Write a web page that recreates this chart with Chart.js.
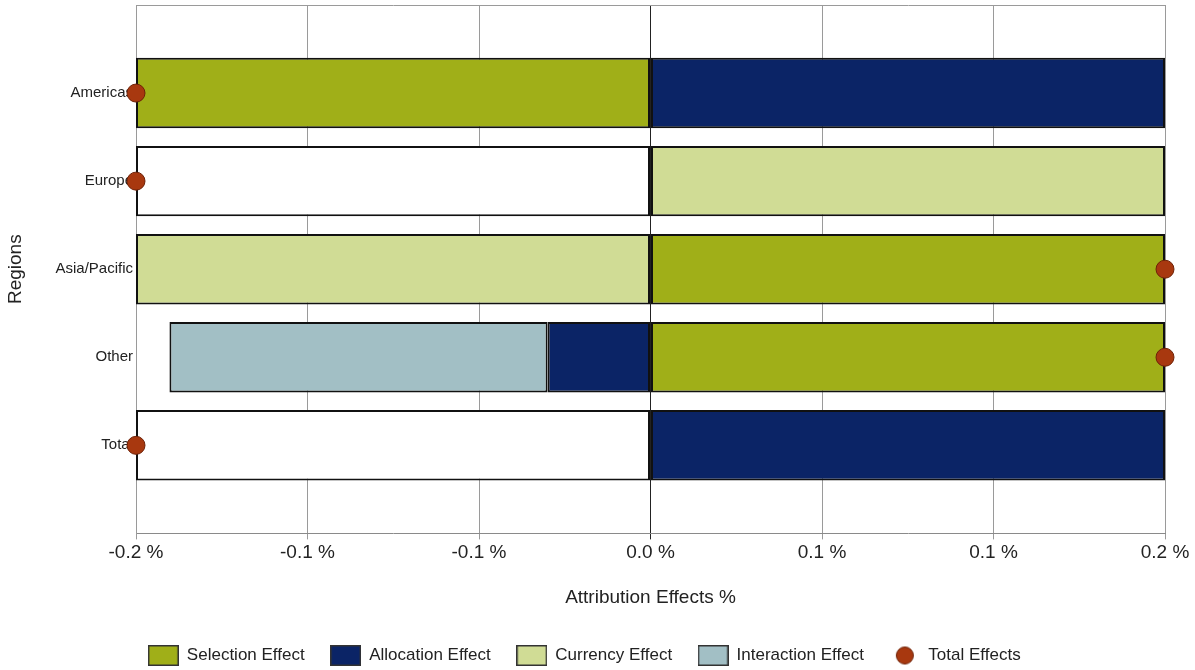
<!DOCTYPE html>
<html>
<head>
<meta charset="utf-8">
<script src="https://cdn.jsdelivr.net/npm/chart.js@4"></script>
<style>
  html, body { margin: 0; padding: 0; background: #fff; }
  #wrap { width: 1195px; height: 670px; }
</style>
</head>
<body>
<div id="wrap"><canvas id="myChart" width="1195" height="670"></canvas></div>
<script>
// regions on the category axis (blank slots at both ends keep the spacing of the original)
var regions = ['Americas', 'Europe', 'Asia/Pacific', 'Other', 'Total'];

// attribution effects in %, null where a region has no bar
var selectionEffect   = [-0.2, null, 0.2, 0.2, null];
var allocationEffect  = [0.2, null, null, -0.04, 0.2];
var currencyEffect    = [null, 0.2, -0.2, null, null];
var interactionEffect = [null, null, null, -0.147, null];
var blankEffect       = [null, -0.2, null, null, -0.2];
var totalEffects      = [-0.2, -0.2, 0.2, 0.2, -0.2];

var xMin = -0.2, xMax = 0.2;

var colors = {
    selection: '#a0af18',
    allocation: '#0b2466',
    currency: '#d0dc95',
    interaction: '#a2bfc5',
    total: '#a8380f'
};

var axisFont = '"Liberation Sans", Arial, sans-serif';

function pad(arr) {
    return [null].concat(arr, [null]);
}

function swatch(fill, round) {
    var c = document.createElement('canvas');
    var g = c.getContext('2d');
    if (round) {
        c.width = 20; c.height = 20;
        g.beginPath();
        g.arc(10, 10, 8.5, 0, Math.PI * 2);
        g.fillStyle = fill;
        g.fill();
        g.strokeStyle = '#6e2208';
        g.lineWidth = 1;
        g.stroke();
    } else {
        c.width = 31; c.height = 21;
        g.fillStyle = fill;
        g.fillRect(0, 0, 31, 21);
        g.strokeStyle = '#333';
        g.lineWidth = 1.5;
        g.strokeRect(0.75, 0.75, 29.5, 19.5);
    }
    return c;
}

function barSet(label, data, color) {
    return {
        label: label,
        data: pad(data),
        backgroundColor: color,
        borderColor: '#111',
        borderWidth: 2,
        borderSkipped: false,
        barPercentage: 1,
        categoryPercentage: 0.8,
        stack: 'effects',
        xAxisID: 'x'
    };
}

var legendItems = [
    ['Selection Effect', colors.selection, false],
    ['Allocation Effect', colors.allocation, false],
    ['Currency Effect', colors.currency, false],
    ['Interaction Effect', colors.interaction, false],
    ['Total Effects', colors.total, true]
];

var ctx = document.getElementById('myChart').getContext('2d');
var myChart = new Chart(ctx, {
    type: 'bar',
    data: {
        labels: [''].concat(regions, ['']),
        datasets: [
            {
                type: 'line',
                label: 'Total Effects',
                data: pad(totalEffects),
                showLine: false,
                pointRadius: 9,
                pointHoverRadius: 9,
                pointBackgroundColor: colors.total,
                pointBorderColor: '#6e2208',
                pointBorderWidth: 1,
                clip: false,
                order: -1,
                xAxisID: 'x'
            },
            barSet('Selection Effect', selectionEffect, colors.selection),
            barSet('Allocation Effect', allocationEffect, colors.allocation),
            barSet('Currency Effect', currencyEffect, colors.currency),
            barSet('Interaction Effect', interactionEffect, colors.interaction),
            barSet('', blankEffect, '#ffffff')
        ]
    },
    options: {
        indexAxis: 'y',
        responsive: false,
        animation: false,
        layout: {
            autoPadding: false,
            padding: { top: 5, right: 30, bottom: -4, left: 4 }
        },
        plugins: {
            tooltip: { enabled: false },
            legend: {
                position: 'bottom',
                labels: {
                    usePointStyle: true,
                    pointStyleWidth: 30,
                    boxHeight: 20,
                    padding: 26,
                    color: '#222',
                    font: { family: axisFont, size: 17 },
                    generateLabels: function () {
                        return legendItems.map(function (it, i) {
                            return {
                                text: it[0],
                                pointStyle: swatch(it[1], it[2]),
                                fillStyle: it[1],
                                strokeStyle: '#333',
                                lineWidth: 0,
                                hidden: false,
                                fontColor: '#222',
                                datasetIndex: i
                            };
                        });
                    }
                }
            }
        },
        scales: {
            x: {
                type: 'linear',
                position: 'bottom',
                stacked: true,
                min: xMin,
                max: xMax,
                ticks: {
                    count: 7,
                    padding: 2,
                    color: '#222',
                    font: { family: axisFont, size: 19 },
                    callback: function (v) {
                        if (Math.abs(v) < 1e-9) v = 0;
                        return v.toFixed(1) + ' %';
                    }
                },
                grid: {
                    drawTicks: true,
                    tickLength: 6,
                    color: function (c) {
                        return c.tick && Math.abs(c.tick.value) < 1e-9 ? '#222' : '#9a9a9a';
                    },
                    lineWidth: 1
                },
                border: { display: true, color: '#8a8a8a' },
                title: {
                    display: true,
                    text: 'Attribution Effects %',
                    color: '#222',
                    font: { family: axisFont, size: 19 },
                    padding: { top: 20, bottom: 12 }
                }
            },
            x2: {
                type: 'linear',
                position: 'top',
                min: xMin,
                max: xMax,
                ticks: { display: false, padding: 0 },
                grid: { display: false, drawTicks: false },
                border: { display: true, color: '#9a9a9a' },
                afterFit: function (scale) {
                    scale.height = 0;
                }
            },
            y: {
                stacked: true,
                offset: false,
                grid: { display: false, drawTicks: false },
                border: { display: true, color: '#9a9a9a' },
                ticks: {
                    padding: 3,
                    color: '#222',
                    font: { family: axisFont, size: 15 }
                },
                title: {
                    display: true,
                    text: 'Regions',
                    color: '#222',
                    font: { family: axisFont, size: 19 },
                    padding: { top: 0, bottom: 0 }
                },
                afterFit: function (scale) {
                    scale.width = 132;
                    scale.paddingTop = 0;
                    scale.paddingBottom = 0;
                }
            }
        }
    }
});
</script>
</body>
</html>
